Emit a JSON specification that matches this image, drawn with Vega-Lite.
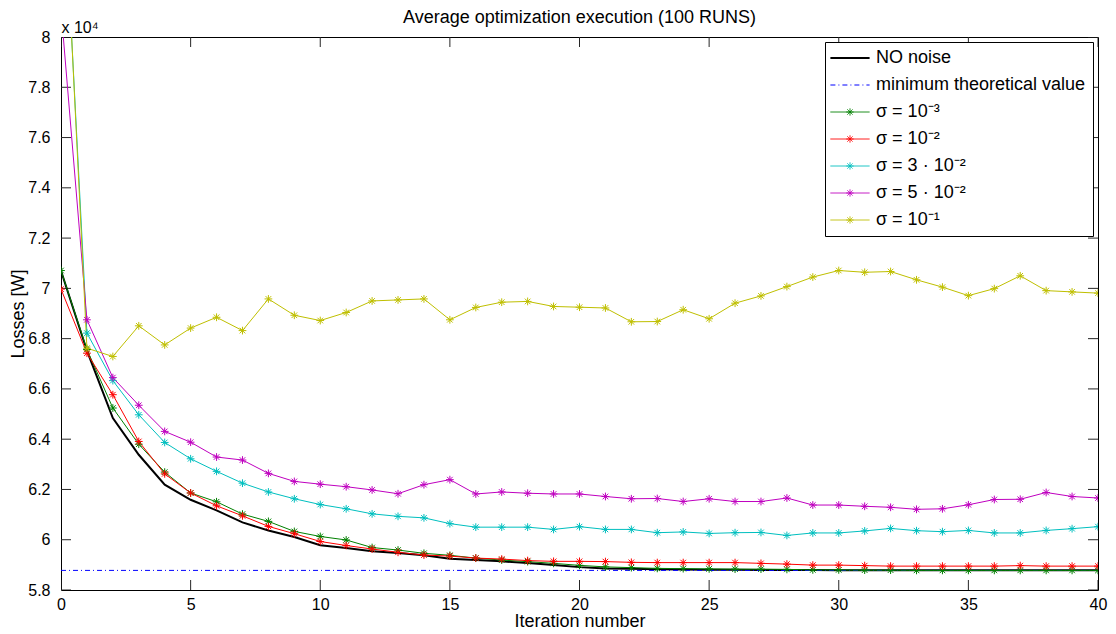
{
  "$schema": "https://vega.github.io/schema/vega-lite/v6.json",
  "width": 1037,
  "height": 553,
  "autosize": {"type": "none"},
  "padding": {"left": 61, "top": 37, "right": 18, "bottom": 44},
  "background": "white",
  "config": {
    "font": "Liberation Sans",
    "view": {"stroke": "black", "strokeWidth": 1},
    "axis": {"domain": false, "ticks": false, "tickSize": 0, "labelColor": "black", "titleColor": "black", "grid": false, "labelFontSize": 16, "titleFontSize": 18, "titleFontWeight": "normal", "labelFont": "Liberation Sans", "titleFont": "Liberation Sans", "labelFlush": false}
  },
  "title": {"text": "Average optimization execution (100 RUNS)", "fontSize": 18, "fontWeight": "normal", "color": "black", "font": "Liberation Sans", "offset": 0, "dy": 8},
  "data": {"values": [
    {"iteration":0,"series":"NO noise","loss":70700},{"iteration":1,"series":"NO noise","loss":67520},{"iteration":2,"series":"NO noise","loss":64840},{"iteration":3,"series":"NO noise","loss":63380},{"iteration":4,"series":"NO noise","loss":62190},{"iteration":5,"series":"NO noise","loss":61590},{"iteration":6,"series":"NO noise","loss":61170},{"iteration":7,"series":"NO noise","loss":60690},{"iteration":8,"series":"NO noise","loss":60370},{"iteration":9,"series":"NO noise","loss":60110},{"iteration":10,"series":"NO noise","loss":59780},{"iteration":11,"series":"NO noise","loss":59670},{"iteration":12,"series":"NO noise","loss":59540},{"iteration":13,"series":"NO noise","loss":59470},{"iteration":14,"series":"NO noise","loss":59380},{"iteration":15,"series":"NO noise","loss":59240},{"iteration":16,"series":"NO noise","loss":59190},{"iteration":17,"series":"NO noise","loss":59140},{"iteration":18,"series":"NO noise","loss":59070},{"iteration":19,"series":"NO noise","loss":58990},{"iteration":20,"series":"NO noise","loss":58910},{"iteration":21,"series":"NO noise","loss":58860},{"iteration":22,"series":"NO noise","loss":58850},{"iteration":23,"series":"NO noise","loss":58830},{"iteration":24,"series":"NO noise","loss":58820},{"iteration":25,"series":"NO noise","loss":58810},{"iteration":26,"series":"NO noise","loss":58810},{"iteration":27,"series":"NO noise","loss":58800},{"iteration":28,"series":"NO noise","loss":58800},{"iteration":29,"series":"NO noise","loss":58800},{"iteration":30,"series":"NO noise","loss":58790},{"iteration":31,"series":"NO noise","loss":58790},{"iteration":32,"series":"NO noise","loss":58790},{"iteration":33,"series":"NO noise","loss":58790},{"iteration":34,"series":"NO noise","loss":58790},{"iteration":35,"series":"NO noise","loss":58790},{"iteration":36,"series":"NO noise","loss":58790},{"iteration":37,"series":"NO noise","loss":58790},{"iteration":38,"series":"NO noise","loss":58790},{"iteration":39,"series":"NO noise","loss":58790},{"iteration":40,"series":"NO noise","loss":58790},
    {"iteration":0,"series":"minimum theoretical value","loss":58780},{"iteration":40,"series":"minimum theoretical value","loss":58780},
    {"iteration":0,"series":"σ = 10⁻³","loss":70710},{"iteration":1,"series":"σ = 10⁻³","loss":67570},{"iteration":2,"series":"σ = 10⁻³","loss":65240},{"iteration":3,"series":"σ = 10⁻³","loss":63800},{"iteration":4,"series":"σ = 10⁻³","loss":62690},{"iteration":5,"series":"σ = 10⁻³","loss":61860},{"iteration":6,"series":"σ = 10⁻³","loss":61510},{"iteration":7,"series":"σ = 10⁻³","loss":61020},{"iteration":8,"series":"σ = 10⁻³","loss":60730},{"iteration":9,"series":"σ = 10⁻³","loss":60330},{"iteration":10,"series":"σ = 10⁻³","loss":60130},{"iteration":11,"series":"σ = 10⁻³","loss":59990},{"iteration":12,"series":"σ = 10⁻³","loss":59690},{"iteration":13,"series":"σ = 10⁻³","loss":59590},{"iteration":14,"series":"σ = 10⁻³","loss":59460},{"iteration":15,"series":"σ = 10⁻³","loss":59380},{"iteration":16,"series":"σ = 10⁻³","loss":59270},{"iteration":17,"series":"σ = 10⁻³","loss":59190},{"iteration":18,"series":"σ = 10⁻³","loss":59130},{"iteration":19,"series":"σ = 10⁻³","loss":59060},{"iteration":20,"series":"σ = 10⁻³","loss":58980},{"iteration":21,"series":"σ = 10⁻³","loss":58920},{"iteration":22,"series":"σ = 10⁻³","loss":58890},{"iteration":23,"series":"σ = 10⁻³","loss":58860},{"iteration":24,"series":"σ = 10⁻³","loss":58850},{"iteration":25,"series":"σ = 10⁻³","loss":58840},{"iteration":26,"series":"σ = 10⁻³","loss":58830},{"iteration":27,"series":"σ = 10⁻³","loss":58830},{"iteration":28,"series":"σ = 10⁻³","loss":58820},{"iteration":29,"series":"σ = 10⁻³","loss":58800},{"iteration":30,"series":"σ = 10⁻³","loss":58800},{"iteration":31,"series":"σ = 10⁻³","loss":58790},{"iteration":32,"series":"σ = 10⁻³","loss":58790},{"iteration":33,"series":"σ = 10⁻³","loss":58780},{"iteration":34,"series":"σ = 10⁻³","loss":58780},{"iteration":35,"series":"σ = 10⁻³","loss":58780},{"iteration":36,"series":"σ = 10⁻³","loss":58780},{"iteration":37,"series":"σ = 10⁻³","loss":58780},{"iteration":38,"series":"σ = 10⁻³","loss":58780},{"iteration":39,"series":"σ = 10⁻³","loss":58780},{"iteration":40,"series":"σ = 10⁻³","loss":58780},
    {"iteration":0,"series":"σ = 10⁻²","loss":69970},{"iteration":1,"series":"σ = 10⁻²","loss":67420},{"iteration":2,"series":"σ = 10⁻²","loss":65770},{"iteration":3,"series":"σ = 10⁻²","loss":63910},{"iteration":4,"series":"σ = 10⁻²","loss":62620},{"iteration":5,"series":"σ = 10⁻²","loss":61860},{"iteration":6,"series":"σ = 10⁻²","loss":61350},{"iteration":7,"series":"σ = 10⁻²","loss":60950},{"iteration":8,"series":"σ = 10⁻²","loss":60530},{"iteration":9,"series":"σ = 10⁻²","loss":60240},{"iteration":10,"series":"σ = 10⁻²","loss":59930},{"iteration":11,"series":"σ = 10⁻²","loss":59770},{"iteration":12,"series":"σ = 10⁻²","loss":59630},{"iteration":13,"series":"σ = 10⁻²","loss":59500},{"iteration":14,"series":"σ = 10⁻²","loss":59390},{"iteration":15,"series":"σ = 10⁻²","loss":59350},{"iteration":16,"series":"σ = 10⁻²","loss":59270},{"iteration":17,"series":"σ = 10⁻²","loss":59230},{"iteration":18,"series":"σ = 10⁻²","loss":59170},{"iteration":19,"series":"σ = 10⁻²","loss":59140},{"iteration":20,"series":"σ = 10⁻²","loss":59140},{"iteration":21,"series":"σ = 10⁻²","loss":59130},{"iteration":22,"series":"σ = 10⁻²","loss":59100},{"iteration":23,"series":"σ = 10⁻²","loss":59090},{"iteration":24,"series":"σ = 10⁻²","loss":59090},{"iteration":25,"series":"σ = 10⁻²","loss":59090},{"iteration":26,"series":"σ = 10⁻²","loss":59090},{"iteration":27,"series":"σ = 10⁻²","loss":59060},{"iteration":28,"series":"σ = 10⁻²","loss":59030},{"iteration":29,"series":"σ = 10⁻²","loss":58990},{"iteration":30,"series":"σ = 10⁻²","loss":58990},{"iteration":31,"series":"σ = 10⁻²","loss":58970},{"iteration":32,"series":"σ = 10⁻²","loss":58950},{"iteration":33,"series":"σ = 10⁻²","loss":58950},{"iteration":34,"series":"σ = 10⁻²","loss":58950},{"iteration":35,"series":"σ = 10⁻²","loss":58950},{"iteration":36,"series":"σ = 10⁻²","loss":58950},{"iteration":37,"series":"σ = 10⁻²","loss":58970},{"iteration":38,"series":"σ = 10⁻²","loss":58950},{"iteration":39,"series":"σ = 10⁻²","loss":58950},{"iteration":40,"series":"σ = 10⁻²","loss":58950},
    {"iteration":0,"series":"σ = 3 · 10⁻²","loss":88200},{"iteration":1,"series":"σ = 3 · 10⁻²","loss":68220},{"iteration":2,"series":"σ = 3 · 10⁻²","loss":66330},{"iteration":3,"series":"σ = 3 · 10⁻²","loss":64970},{"iteration":4,"series":"σ = 3 · 10⁻²","loss":63870},{"iteration":5,"series":"σ = 3 · 10⁻²","loss":63220},{"iteration":6,"series":"σ = 3 · 10⁻²","loss":62720},{"iteration":7,"series":"σ = 3 · 10⁻²","loss":62250},{"iteration":8,"series":"σ = 3 · 10⁻²","loss":61900},{"iteration":9,"series":"σ = 3 · 10⁻²","loss":61630},{"iteration":10,"series":"σ = 3 · 10⁻²","loss":61400},{"iteration":11,"series":"σ = 3 · 10⁻²","loss":61230},{"iteration":12,"series":"σ = 3 · 10⁻²","loss":61030},{"iteration":13,"series":"σ = 3 · 10⁻²","loss":60930},{"iteration":14,"series":"σ = 3 · 10⁻²","loss":60870},{"iteration":15,"series":"σ = 3 · 10⁻²","loss":60640},{"iteration":16,"series":"σ = 3 · 10⁻²","loss":60500},{"iteration":17,"series":"σ = 3 · 10⁻²","loss":60500},{"iteration":18,"series":"σ = 3 · 10⁻²","loss":60500},{"iteration":19,"series":"σ = 3 · 10⁻²","loss":60410},{"iteration":20,"series":"σ = 3 · 10⁻²","loss":60520},{"iteration":21,"series":"σ = 3 · 10⁻²","loss":60410},{"iteration":22,"series":"σ = 3 · 10⁻²","loss":60410},{"iteration":23,"series":"σ = 3 · 10⁻²","loss":60280},{"iteration":24,"series":"σ = 3 · 10⁻²","loss":60310},{"iteration":25,"series":"σ = 3 · 10⁻²","loss":60250},{"iteration":26,"series":"σ = 3 · 10⁻²","loss":60280},{"iteration":27,"series":"σ = 3 · 10⁻²","loss":60290},{"iteration":28,"series":"σ = 3 · 10⁻²","loss":60170},{"iteration":29,"series":"σ = 3 · 10⁻²","loss":60270},{"iteration":30,"series":"σ = 3 · 10⁻²","loss":60270},{"iteration":31,"series":"σ = 3 · 10⁻²","loss":60350},{"iteration":32,"series":"σ = 3 · 10⁻²","loss":60450},{"iteration":33,"series":"σ = 3 · 10⁻²","loss":60360},{"iteration":34,"series":"σ = 3 · 10⁻²","loss":60320},{"iteration":35,"series":"σ = 3 · 10⁻²","loss":60370},{"iteration":36,"series":"σ = 3 · 10⁻²","loss":60270},{"iteration":37,"series":"σ = 3 · 10⁻²","loss":60270},{"iteration":38,"series":"σ = 3 · 10⁻²","loss":60370},{"iteration":39,"series":"σ = 3 · 10⁻²","loss":60440},{"iteration":40,"series":"σ = 3 · 10⁻²","loss":60520},
    {"iteration":0,"series":"σ = 5 · 10⁻²","loss":81100},{"iteration":1,"series":"σ = 5 · 10⁻²","loss":68750},{"iteration":2,"series":"σ = 5 · 10⁻²","loss":66450},{"iteration":3,"series":"σ = 5 · 10⁻²","loss":65350},{"iteration":4,"series":"σ = 5 · 10⁻²","loss":64310},{"iteration":5,"series":"σ = 5 · 10⁻²","loss":63880},{"iteration":6,"series":"σ = 5 · 10⁻²","loss":63290},{"iteration":7,"series":"σ = 5 · 10⁻²","loss":63170},{"iteration":8,"series":"σ = 5 · 10⁻²","loss":62640},{"iteration":9,"series":"σ = 5 · 10⁻²","loss":62320},{"iteration":10,"series":"σ = 5 · 10⁻²","loss":62210},{"iteration":11,"series":"σ = 5 · 10⁻²","loss":62110},{"iteration":12,"series":"σ = 5 · 10⁻²","loss":61980},{"iteration":13,"series":"σ = 5 · 10⁻²","loss":61830},{"iteration":14,"series":"σ = 5 · 10⁻²","loss":62190},{"iteration":15,"series":"σ = 5 · 10⁻²","loss":62390},{"iteration":16,"series":"σ = 5 · 10⁻²","loss":61820},{"iteration":17,"series":"σ = 5 · 10⁻²","loss":61900},{"iteration":18,"series":"σ = 5 · 10⁻²","loss":61850},{"iteration":19,"series":"σ = 5 · 10⁻²","loss":61820},{"iteration":20,"series":"σ = 5 · 10⁻²","loss":61820},{"iteration":21,"series":"σ = 5 · 10⁻²","loss":61720},{"iteration":22,"series":"σ = 5 · 10⁻²","loss":61630},{"iteration":23,"series":"σ = 5 · 10⁻²","loss":61640},{"iteration":24,"series":"σ = 5 · 10⁻²","loss":61520},{"iteration":25,"series":"σ = 5 · 10⁻²","loss":61630},{"iteration":26,"series":"σ = 5 · 10⁻²","loss":61520},{"iteration":27,"series":"σ = 5 · 10⁻²","loss":61520},{"iteration":28,"series":"σ = 5 · 10⁻²","loss":61660},{"iteration":29,"series":"σ = 5 · 10⁻²","loss":61380},{"iteration":30,"series":"σ = 5 · 10⁻²","loss":61380},{"iteration":31,"series":"σ = 5 · 10⁻²","loss":61330},{"iteration":32,"series":"σ = 5 · 10⁻²","loss":61290},{"iteration":33,"series":"σ = 5 · 10⁻²","loss":61210},{"iteration":34,"series":"σ = 5 · 10⁻²","loss":61230},{"iteration":35,"series":"σ = 5 · 10⁻²","loss":61390},{"iteration":36,"series":"σ = 5 · 10⁻²","loss":61600},{"iteration":37,"series":"σ = 5 · 10⁻²","loss":61610},{"iteration":38,"series":"σ = 5 · 10⁻²","loss":61880},{"iteration":39,"series":"σ = 5 · 10⁻²","loss":61720},{"iteration":40,"series":"σ = 5 · 10⁻²","loss":61660},
    {"iteration":0,"series":"σ = 10⁻¹","loss":88600},{"iteration":1,"series":"σ = 10⁻¹","loss":67620},{"iteration":2,"series":"σ = 10⁻¹","loss":67290},{"iteration":3,"series":"σ = 10⁻¹","loss":68510},{"iteration":4,"series":"σ = 10⁻¹","loss":67750},{"iteration":5,"series":"σ = 10⁻¹","loss":68420},{"iteration":6,"series":"σ = 10⁻¹","loss":68850},{"iteration":7,"series":"σ = 10⁻¹","loss":68320},{"iteration":8,"series":"σ = 10⁻¹","loss":69580},{"iteration":9,"series":"σ = 10⁻¹","loss":68930},{"iteration":10,"series":"σ = 10⁻¹","loss":68720},{"iteration":11,"series":"σ = 10⁻¹","loss":69040},{"iteration":12,"series":"σ = 10⁻¹","loss":69500},{"iteration":13,"series":"σ = 10⁻¹","loss":69540},{"iteration":14,"series":"σ = 10⁻¹","loss":69580},{"iteration":15,"series":"σ = 10⁻¹","loss":68750},{"iteration":16,"series":"σ = 10⁻¹","loss":69240},{"iteration":17,"series":"σ = 10⁻¹","loss":69450},{"iteration":18,"series":"σ = 10⁻¹","loss":69480},{"iteration":19,"series":"σ = 10⁻¹","loss":69280},{"iteration":20,"series":"σ = 10⁻¹","loss":69250},{"iteration":21,"series":"σ = 10⁻¹","loss":69220},{"iteration":22,"series":"σ = 10⁻¹","loss":68670},{"iteration":23,"series":"σ = 10⁻¹","loss":68680},{"iteration":24,"series":"σ = 10⁻¹","loss":69150},{"iteration":25,"series":"σ = 10⁻¹","loss":68790},{"iteration":26,"series":"σ = 10⁻¹","loss":69410},{"iteration":27,"series":"σ = 10⁻¹","loss":69700},{"iteration":28,"series":"σ = 10⁻¹","loss":70070},{"iteration":29,"series":"σ = 10⁻¹","loss":70450},{"iteration":30,"series":"σ = 10⁻¹","loss":70710},{"iteration":31,"series":"σ = 10⁻¹","loss":70640},{"iteration":32,"series":"σ = 10⁻¹","loss":70670},{"iteration":33,"series":"σ = 10⁻¹","loss":70340},{"iteration":34,"series":"σ = 10⁻¹","loss":70050},{"iteration":35,"series":"σ = 10⁻¹","loss":69710},{"iteration":36,"series":"σ = 10⁻¹","loss":69990},{"iteration":37,"series":"σ = 10⁻¹","loss":70500},{"iteration":38,"series":"σ = 10⁻¹","loss":69910},{"iteration":39,"series":"σ = 10⁻¹","loss":69860},{"iteration":40,"series":"σ = 10⁻¹","loss":69810}
  ]},
  "layer": [
    {
      "data": {"values": [{"tick":0},{"tick":5},{"tick":10},{"tick":15},{"tick":20},{"tick":25},{"tick":30},{"tick":35},{"tick":40}]},
      "layer": [
        {"mark": {"type": "tick", "orient": "vertical", "size": 20, "thickness": 1, "color": "#262626", "opacity": 1, "clip": true},
         "encoding": {"x": {"field": "tick", "type": "quantitative", "axis": null}, "y": {"datum": 58000, "type": "quantitative", "axis": null}}},
        {"mark": {"type": "tick", "orient": "vertical", "size": 20, "thickness": 1, "color": "#262626", "opacity": 1, "clip": true},
         "encoding": {"x": {"field": "tick", "type": "quantitative", "axis": null}, "y": {"datum": 80000, "type": "quantitative", "axis": null}}}
      ]
    },
    {
      "data": {"values": [{"tick":58000},{"tick":60000},{"tick":62000},{"tick":64000},{"tick":66000},{"tick":68000},{"tick":70000},{"tick":72000},{"tick":74000},{"tick":76000},{"tick":78000},{"tick":80000}]},
      "layer": [
        {"mark": {"type": "tick", "orient": "horizontal", "size": 20, "thickness": 1, "color": "#262626", "opacity": 1, "clip": true},
         "encoding": {"y": {"field": "tick", "type": "quantitative", "axis": null}, "x": {"datum": 0, "type": "quantitative", "axis": null}}},
        {"mark": {"type": "tick", "orient": "horizontal", "size": 20, "thickness": 1, "color": "#262626", "opacity": 1, "clip": true},
         "encoding": {"y": {"field": "tick", "type": "quantitative", "axis": null}, "x": {"datum": 40, "type": "quantitative", "axis": null}}}
      ]
    },
    {
      "transform": [{"filter": "datum.series === 'NO noise'"}],
      "mark": {"type": "line", "strokeWidth": 2, "clip": true},
      "encoding": {
        "x": {"field": "iteration", "type": "quantitative", "scale": {"domain": [0, 40], "nice": false},
          "axis": {"orient": "bottom", "values": [0,5,10,15,20,25,30,35,40], "title": "Iteration number", "labelPadding": 6, "titlePadding": 0}},
        "y": {"field": "loss", "type": "quantitative", "scale": {"domain": [58000, 80000], "nice": false, "zero": false},
          "axis": {"orient": "left", "values": [58000,60000,62000,64000,66000,68000,70000,72000,74000,76000,78000,80000], "labelExpr": "format(datum.value/10000, '~g')", "title": "Losses [W]", "labelPadding": 11, "titleX": -43, "titleBaseline": "middle"}},
        "color": {"field": "series", "type": "nominal",
          "scale": {"domain": ["NO noise", "minimum theoretical value", "σ = 10⁻³", "σ = 10⁻²", "σ = 3 · 10⁻²", "σ = 5 · 10⁻²", "σ = 10⁻¹"],
                    "range": ["#000000", "#0000ff", "#008000", "#ff0000", "#00bfbf", "#bf00bf", "#bfbf00"]},
          "legend": {"orient": "top-right", "offset": 5, "title": null, "fillColor": "white", "strokeColor": "black", "padding": 7, "zindex": 3,
            "labelFontSize": 18, "labelFont": "Liberation Sans", "labelColor": "black", "symbolSize": 64, "symbolOffset": 9, "labelOffset": 17, "rowPadding": 9, "labelLimit": 400,
            "encode": {"symbols": {"update": {
              "shape": {"signal": "datum.value === 'NO noise' || datum.value === 'minimum theoretical value' ? 'M-4.9,0L4.9,0' : 'M-4.9,0L4.9,0M-0.9,0L0.9,0M0,-0.9L0,0.9M-0.65,-0.65L0.65,0.65M-0.65,0.65L0.65,-0.65'"},
              "strokeDash": {"signal": "datum.value === 'minimum theoretical value' ? [5,3,1,3] : [1,0]"},
              "strokeWidth": {"signal": "datum.value === 'NO noise' ? 2 : 1"},
              "fill": {"value": "transparent"},
              "stroke": {"scale": "color", "field": "value"},
              "opacity": {"value": 1}
            }}}}}
      }
    },
    {
      "transform": [{"filter": "datum.series === 'minimum theoretical value'"}],
      "mark": {"type": "line", "strokeWidth": 1, "strokeDash": [5, 3, 1, 3], "clip": true},
      "encoding": {
        "x": {"field": "iteration", "type": "quantitative", "axis": null},
        "y": {"field": "loss", "type": "quantitative", "axis": null},
        "color": {"field": "series", "type": "nominal"}
      }
    },
    {
      "transform": [{"filter": "datum.series !== 'NO noise' && datum.series !== 'minimum theoretical value'"}],
      "mark": {"type": "line", "strokeWidth": 1, "clip": true},
      "encoding": {
        "x": {"field": "iteration", "type": "quantitative", "axis": null},
        "y": {"field": "loss", "type": "quantitative", "axis": null},
        "color": {"field": "series", "type": "nominal"}
      }
    },
    {
      "transform": [{"filter": "datum.series !== 'NO noise' && datum.series !== 'minimum theoretical value'"}],
      "mark": {"type": "point", "filled": false, "strokeWidth": 1, "size": 60, "opacity": 1, "clip": true,
        "shape": "M-1,0L1,0M0,-1L0,1M-0.72,-0.72L0.72,0.72M-0.72,0.72L0.72,-0.72"},
      "encoding": {
        "x": {"field": "iteration", "type": "quantitative",
          "axis": {"orient": "top", "values": [0,5,10,15,20,25,30,35,40], "labels": false, "title": "x 10⁴", "titleX": 0, "titleY": -5, "titleAngle": 0, "titleAlign": "left", "titleBaseline": "alphabetic", "titleFontSize": 16}},
        "y": {"field": "loss", "type": "quantitative", "axis": null},
        "color": {"field": "series", "type": "nominal"}
      }
    }
  ],
  "resolve": {"axis": {"x": "independent", "y": "independent"}}
}
